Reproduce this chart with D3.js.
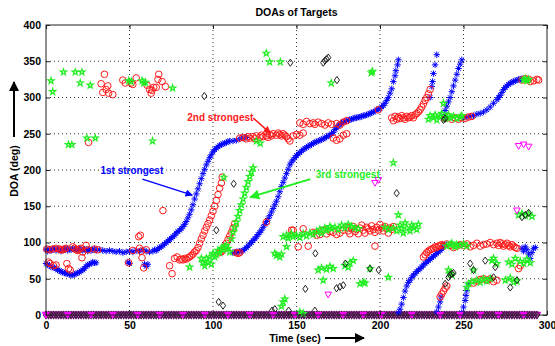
<!DOCTYPE html>
<html>
<head>
<meta charset="utf-8">
<script src="https://cdn.jsdelivr.net/npm/d3@7"></script>
<style>
  body { margin: 0; background: #fff; }
  text { font-family: "Liberation Sans", Arial, sans-serif; font-weight: bold; }
</style>
</head>
<body>
<div id="chart"></div>
<script>
// DOA tracks, [time (sec), DOA (deg)]
const firstMain = [[0,90],[1,88],[2,91],[3,89],[4,90],[5,92],[6,89],[7,91],[8,90],[9,88],[10,91],[11,90],[12,92],[13,89],[14,91],[15,90],[16,92],[17,90],[18,91],[19,89],[20,92],[21,90],[22,89],[23,91],[24,90],[25,88],[26,91],[27,89],[28,90],[29,91],[30,89],[32,90],[34,89],[36,88],[38,89],[40,88],[42,87],[44,88],[46,86],[48,87],[50,88],[52,87],[54,89],[56,88],[58,90],[60,88],[62,87],[64,88],[65,90],[66,89],[67,91],[68,93],[69,94],[70,96],[71,98],[72,100],[73,102],[74,104],[75,106],[76,108],[77,110],[78,113],[79,115],[80,117],[81,119],[82,122],[83,125],[84,129],[85,134],[86,139],[87,145],[88,152],[89,160],[90,167],[91,174],[92,181],[93,188],[94,195],[95,201],[96,207],[97,212],[98,217],[99,221],[100,225],[101,228],[102,230],[103,232],[104,234],[105,235],[106,236],[107,237],[108,238],[109,239],[110,240],[112,240],[114,241],[116,243],[118,244],[120,245]];
const firstDip = [[0,71],[1,70],[2,68],[3,67],[4,66],[5,65],[6,64],[7,62],[8,61],[9,60],[10,59],[11,58],[12,57],[13,57],[14,56],[15,55],[16,55],[17,56],[18,57],[19,58],[20,59],[21,61],[22,62],[23,64],[24,67],[25,69],[26,70],[27,71],[28,73],[29,72],[30,72],[49,73],[50,71],[59,70],[60,67],[61,70]];
const firstSecond = [[112,86],[113,86],[114,87],[115,87],[116,88],[117,88],[118,89],[119,91],[120,93],[121,95],[122,98],[123,100],[124,103],[125,105],[126,108],[127,111],[128,114],[129,117],[130,121],[131,125],[132,129],[133,133],[134,137],[135,142],[136,147],[137,152],[138,157],[139,163],[140,170],[141,177],[142,183],[143,189],[144,195],[145,201],[146,207],[147,211],[148,214],[149,217],[150,220],[151,222],[152,224],[153,226],[154,228],[155,230],[156,231],[157,233],[158,234],[159,235],[160,237],[161,238],[162,239],[163,240],[164,241],[165,242],[166,243],[167,244],[168,246],[169,247],[170,248],[171,250],[172,252],[173,256],[174,258],[175,261],[176,263],[177,264],[178,266],[179,267],[180,268],[181,268],[182,270],[183,270],[184,271],[185,272],[186,272],[187,273],[188,273],[189,274],[190,275],[191,275],[192,276],[193,277],[194,278],[195,279],[196,280],[197,281],[198,283],[199,284],[200,285],[201,287],[202,289],[203,292],[204,296],[205,300],[206,306],[207,312],[208,322],[209,330],[209.5,337],[210.5,345],[211,352]];
const firstLate = [[230,300],[231,315],[231.5,322],[232,333],[233,345],[234,359],[238,275],[239,282],[240,288],[241,294],[242,300],[243,308],[244,316],[245,324],[246,332],[247,340],[248,346],[249,352],[250,272],[252,273],[254,274],[256,275],[258,277],[260,278],[262,280],[264,283],[266,287],[268,292],[270,297],[271,300],[272,303],[273,307],[274,311],[275,314],[276,316],[277,318],[278,320],[279,321],[280,322],[281,323],[282,324],[283,325],[284,325],[285,326]];
const firstLow = [[211,3],[212,8],[213,15],[214,24],[215,33],[216,40],[217,45],[218,48],[219,52],[220,55],[221,57],[222,60],[223,62],[224,64],[225,66],[226,69],[227,71],[228,73],[229,75],[230,77],[231,79],[232,81],[233,83],[234,85],[235,87],[236,89],[237,91],[238,94],[239,96],[240,97],[234,4],[235,11],[236,18],[236.5,25],[249,3],[250,11],[251,20],[251.5,27],[252,34],[253,43],[285,92],[286,88],[287,94],[288,90],[289,84],[290,78],[291,86],[292,92],[293,93]];

const secondLeft = [[33,319],[34,307],[35,332],[36,311],[37,316],[37.5,306],[40,304],[46,324],[47.5,320],[51,320],[52,318],[54,327],[60.5,317],[62,311],[63,306],[63.5,310],[64.5,314],[66,314],[67,325],[67.5,332],[69.5,322],[71.5,315],[25.5,238],[70,144],[0.5,91],[2,90],[4,91],[6,92],[8,91],[9,90],[10,90],[11,91],[12,92],[16,94],[17,92],[18,90],[19,89],[20,91],[21,92],[22,87],[24,96],[25,90],[29,91],[31,90],[52,89],[56,92],[57,88],[60,90],[1.5,73],[2.5,71],[4.5,68],[6,69],[12.5,71],[13.5,64],[14.5,62],[21.5,79],[49.5,72],[55.5,108],[56.5,110],[57.5,79],[58.5,65]];
const secondRise = [[74,68],[75.5,57],[77,78],[78.5,80],[80,76],[81,77],[82,76],[83,78],[84,77],[85,79],[86,80],[87,82],[88,84],[89,87],[90,89],[91,93],[92,99],[93,105],[94,110],[95,116],[96,121],[97,126],[98,131],[99,137],[100,143],[101,150],[102,158],[103,166],[104,175],[105,182],[105.5,190],[104,86],[105,87],[106,90],[107,94],[108,99],[109,104],[110,109],[111,114],[112,120],[113,126],[114,86],[115,85],[116,86],[132,128],[148,117],[151,94],[154,119],[157,95]];
const secondUpper = [[116,244],[118,245],[120,243],[121,246],[122,244],[124,246],[125,243],[126,247],[128,245],[129,248],[130,246],[132,247],[133,245],[134,249],[135,247],[136,250],[138,248],[139,251],[140,249],[141,247],[142,250],[143,248],[144,246],[145,243],[146,240],[148,247],[150,249],[152,248],[154,251],[152,265],[154,263],[156,267],[158,264],[160,265],[161,263],[163,266],[165,264],[167,262],[169,265],[171,263],[174,264],[176,262],[178,266],[180,268],[172,244],[174,241],[176,243],[178,248],[180,250],[199,283],[207,272],[208,268],[209,274],[210,270],[211,273],[212,271],[213,275],[214,272],[215,270],[216,274],[217,272],[218,273],[219,275],[220,272],[221,276],[222,278],[223,280],[224,283],[225,287],[226,291],[227,296],[228,300],[229,305],[230,311],[239,271],[241,273],[243,270],[245,272],[247,270],[249,272],[251,271],[253,273],[255,274],[285,324],[287,326],[289,325],[290,322],[292,323],[294,325],[295,324]];
const secondMid = [[147,117],[160,114],[162,110],[164,111],[166,117],[168,112],[170,115],[172,114],[174,111],[176,113],[178,117],[180,121],[181,116],[182,112],[183,119],[184,122],[185,115],[186,118],[187,112],[188,120],[189,124],[190,117],[191,113],[192,121],[193,119],[194,116],[195,123],[196,118],[197,95],[197,114],[198,121],[199,117],[200,125],[201,120],[202,116],[203,122],[204,119],[205,113],[206,120],[207,118],[208,122]];
const secondRight = [[226,80],[227,83],[228,86],[229,88],[230,90],[231,91],[232,92],[233,94],[234,93],[235,95],[236,96],[237,97],[238,95],[240,98],[242,96],[244,93],[246,95],[248,97],[250,96],[252,98],[254,94],[256,96],[258,99],[260,95],[262,97],[264,98],[266,100],[268,97],[270,99],[271,96],[272,100],[273,98],[274,95],[275,97],[276,99],[277,96],[278,94],[279,97],[280,95],[281,93],[282,92],[283,64],[284,68],[236,25],[237,29],[238,33],[239,37],[240,40],[256,44],[258,47],[260,49],[262,50],[264,48],[266,50],[268,46],[270,48]];

const thirdTop = [[3,323],[4,308],[10.5,335],[17.5,335],[21.5,335],[20.5,320],[26.5,317],[49.5,323],[51,322],[57.5,323],[58.5,320],[59.5,321],[75.8,313],[13.5,235],[15.5,235],[24.5,244],[29.5,244],[63.8,240],[131.9,361],[133.9,349],[140.3,349],[170.8,320],[194.8,334],[195.5,336],[208,210],[128.3,237],[126,240],[238,292],[229,270],[230,275],[232,272],[233,276],[234,269],[236,274],[237,278],[239,271],[240,273],[241,276],[242,272],[244,274],[246,271],[248,273],[249,275],[286,324],[287,326],[288,323],[289,325]];
const thirdRise = [[86,66],[93,78],[94,72],[95,68],[96,78],[97,73],[98,80],[99,70],[100,85],[101,80],[102,83],[103,89],[104,86],[105,92],[106,90],[106.5,190],[107,94],[108,96],[109,92],[110,87],[111,105],[112,114],[113,121],[114,128],[115,136],[116,144],[117,152],[118,160],[119,168],[120,176],[121,184],[122,191],[123,197],[124,203]];
const thirdMid = [[137,85],[138,82],[140,80],[141,84],[144,94],[142,108],[144,110],[145,106],[147,112],[148,108],[150,110],[152,107],[154,112],[156,109],[158,113],[160,111],[162,115],[164,118],[165,113],[167,120],[168,117],[170,122],[171,119],[173,121],[175,118],[177,124],[179,120],[181,125],[183,122],[185,120],[187,119],[203,121],[205,118],[208,120],[210,116],[211,138],[212,124],[213,119],[214,113],[215,127],[216,120],[218,116],[219,124],[220,121],[222,118],[223,125]];
const thirdLow = [[163,62],[165,65],[166,48],[168,63],[170,67],[172,64],[179,68],[181,66],[182,72],[184,75],[188,43],[190,45],[191,44],[194,64],[205,52],[142,18],[141,12],[143,22],[154,2],[152,4],[240,95],[242,97],[243,99],[245,94],[246,97],[248,96],[250,98],[252,95],[241,62],[242,57],[243,55],[252,38],[253,43],[255,46],[256,62],[258,48],[260,45],[262,50],[264,47],[266,50],[267,75],[268,78],[270,71],[275,48],[278,51],[280,45],[282,47],[277,73],[279,70],[281,78],[284,74],[286,71],[288,77],[290,72],[283,138],[285,140],[287,137],[289,139],[291,136]];

const fourth = [[94.8,302],[146.3,348],[166,348],[167,351],[168,353],[169,355],[174.2,324],[239,271],[238,269],[112.4,181],[102,117],[103.4,18],[106,13],[135.3,6],[210,168],[161.3,85],[155.3,36],[179.3,71],[174,37],[176,39],[178,41],[194,64],[199.2,62],[145.3,6],[161,6],[137,8],[254,71],[263,75],[269,66],[241,52],[242,55],[243,57],[244,58],[256,62],[268,52],[278,38],[282,48],[285,135],[287,138],[289,141],[239,43]];
const fifth = [[197,182],[199,186],[169,28],[283,233],[286,235],[289,232],[282,144]];

// times of the samples sitting on 0 deg (the band along the bottom)
const zeroTimes = [0,1.5,3,4.5,6,7.5,9,10.5,12,13.5,15,16.5,18,19.5,21,22.5,24,25.5,27,28.5,30,31.5,33,34.5,36,37.5,39,40.5,42,43.5,45,46.5,48,49.5,51,52.5,54,55.5,57,58.5,60,61.5,63,64.5,66,67.5,69,70.5,72,73.5,75,76.5,78,79.5,81,82.5,84,85.5,87,88.5,90,91.5,93,94.5,96,97.5,99,100.5,102,103.5,105,106.5,108,109.5,111,112.5,114,115.5,117,118.5,120,121.5,123,124.5,126,127.5,129,130.5,132,133.5,135,136.5,138,139.5,141,142.5,144,145.5,147,148.5,150,151.5,153,154.5,156,157.5,159,160.5,162,163.5,165,166.5,168,169.5,171,172.5,174,175.5,177,178.5,180,181.5,183,184.5,186,187.5,189,190.5,192,193.5,195,196.5,198,199.5,201,202.5,204,205.5,207,208.5,210,211.5,213,214.5,216,217.5,219,220.5,222,223.5,225,226.5,228,229.5,231,232.5,234,235.5,237,238.5,240,241.5,243,244.5,246,247.5,249,250.5,252,253.5,255,256.5,258,259.5,261,262.5,264,265.5,267,268.5,270,271.5,273,274.5,276,277.5,279,280.5,282,283.5,285,286.5,288,289.5,291,292.5,294];
const zeroMarkTimes = [0,13,27,40,55,68,82,95,109,122,136,149,163,178,190,201,219,236,248,260,271,286];

const xTicks = [0, 50, 100, 150, 200, 250, 300];
const yTicks = [0, 50, 100, 150, 200, 250, 300, 350, 400];

const width = 555;
const height = 346;
const margin = { top: 25, right: 8, bottom: 31, left: 46 };

const x = d3.scaleLinear().domain([0, 300]).range([margin.left, width - margin.right]);
const y = d3.scaleLinear().domain([0, 400]).range([height - margin.bottom, margin.top]);

const svg = d3.select('#chart')
  .append('svg')
  .attr('width', width)
  .attr('height', height);

svg.append('rect').attr('width', width).attr('height', height).attr('fill', '#fff');

// dotted grid
svg.append('g')
  .selectAll('line')
  .data(xTicks.slice(1, -1))
  .enter().append('line')
  .attr('x1', d => x(d)).attr('x2', d => x(d))
  .attr('y1', y(0)).attr('y2', y(400))
  .attr('stroke', '#333').attr('stroke-dasharray', '1,3');

svg.append('g')
  .selectAll('line')
  .data(yTicks.slice(1, -1))
  .enter().append('line')
  .attr('x1', x(0)).attr('x2', x(300))
  .attr('y1', d => y(d)).attr('y2', d => y(d))
  .attr('stroke', '#333').attr('stroke-dasharray', '1,3');

// marker shapes (MATLAB style)
const asterisk = 'M-3.2,0H3.2M0,-3.2V3.2M-2.3,-2.3L2.3,2.3M-2.3,2.3L2.3,-2.3';
const diamond = 'M0,-3.6L2.6,0L0,3.6L-2.6,0Z';
const triDown = 'M-3.3,-2.6L3.3,-2.6L0,3.2Z';
const star = d3.symbol().type(d3.symbolStar).size(12)();

const plot = svg.append('g');

function drawPath(data, shape, color, fill, sw) {
  plot.append('g')
    .selectAll('path')
    .data(data)
    .enter().append('path')
    .attr('transform', d => `translate(${x(d[0])},${y(d[1])})`)
    .attr('d', shape)
    .attr('fill', fill || 'none')
    .attr('stroke', color)
    .attr('stroke-width', sw || 1);
}

function drawCircles(data, color) {
  plot.append('g')
    .selectAll('circle')
    .data(data)
    .enter().append('circle')
    .attr('cx', d => x(d[0]))
    .attr('cy', d => y(d[1]))
    .attr('r', 3.3)
    .attr('fill', 'none')
    .attr('stroke', color)
    .attr('stroke-width', 1);
}

const blue = '#0000ff', red = '#ff1a1a', green = '#22ee22', black = '#222', magenta = '#ff00ff';

// bottom band first
drawPath(zeroTimes.map(t => [t, 0]), triDown, '#e000e0', null, 1.3);
drawPath(zeroTimes.map(t => [t, 0]), diamond, '#442244', null, 1.1);

[firstMain, firstDip, firstSecond, firstLate, firstLow].forEach(s => drawPath(s, asterisk, blue));
[secondLeft, secondRise, secondUpper, secondMid, secondRight].forEach(s => drawCircles(s, red));
[thirdTop, thirdRise, thirdMid, thirdLow].forEach(s => drawPath(s, star, green, null, 1.2));
drawPath(fourth, diamond, black);
drawPath(fifth, triDown, magenta);
drawPath(zeroMarkTimes.map(t => [t, 0]), triDown, magenta, magenta);

// axes box with inward ticks
svg.append('rect')
  .attr('x', x(0)).attr('y', y(400))
  .attr('width', x(300) - x(0)).attr('height', y(0) - y(400))
  .attr('fill', 'none').attr('stroke', '#222');

const xAxis = svg.append('g')
  .attr('transform', `translate(0,${y(0)})`)
  .call(d3.axisBottom(x).tickValues(xTicks).tickSizeInner(-4).tickSizeOuter(0).tickPadding(7));
const yAxis = svg.append('g')
  .attr('transform', `translate(${x(0)},0)`)
  .call(d3.axisLeft(y).tickValues(yTicks).tickSizeInner(-4).tickSizeOuter(0).tickPadding(5));
svg.append('g')
  .attr('transform', `translate(0,${y(400)})`)
  .call(d3.axisTop(x).tickValues(xTicks).tickSizeInner(-4).tickSizeOuter(0).tickFormat(''));
svg.append('g')
  .attr('transform', `translate(${x(300)},0)`)
  .call(d3.axisRight(y).tickValues(yTicks).tickSizeInner(-4).tickSizeOuter(0).tickFormat(''));

svg.selectAll('.domain').remove();
svg.selectAll('.tick line').attr('stroke', '#222');
[xAxis, yAxis].forEach(a => a.selectAll('text')
  .attr('fill', '#000')
  .style('font-size', '10.5px')
  .style('font-family', '"Liberation Sans", Arial, sans-serif')
  .style('font-weight', 'bold'));

// titles
svg.append('text')
  .attr('x', x(150)).attr('y', 16)
  .attr('text-anchor', 'middle')
  .style('font-size', '10.5px')
  .text('DOAs of Targets');

svg.append('text')
  .attr('x', 295).attr('y', 342)
  .attr('text-anchor', 'middle')
  .style('font-size', '10.5px')
  .text('Time (sec)');

svg.append('text')
  .attr('transform', 'translate(18,171) rotate(-90)')
  .attr('text-anchor', 'middle')
  .style('font-size', '10.5px')
  .text('DOA (deg)');

// arrowheads
const defs = svg.append('defs');
function marker(id, color) {
  defs.append('marker')
    .attr('id', id)
    .attr('viewBox', '0 0 10 10')
    .attr('refX', 9).attr('refY', 5)
    .attr('markerWidth', 5).attr('markerHeight', 5)
    .attr('orient', 'auto')
    .append('path')
    .attr('d', 'M0,0L10,5L0,10Z')
    .attr('fill', color);
}
marker('arrBlack', '#000');
marker('arrBlue', blue);
marker('arrRed', red);
marker('arrGreen', green);

svg.append('line')
  .attr('x1', 325).attr('y1', 338).attr('x2', 364).attr('y2', 338)
  .attr('stroke', '#000').attr('stroke-width', 2)
  .attr('marker-end', 'url(#arrBlack)');
svg.append('line')
  .attr('x1', 14).attr('y1', 137).attr('x2', 14).attr('y2', 82)
  .attr('stroke', '#000').attr('stroke-width', 2)
  .attr('marker-end', 'url(#arrBlack)');

// "strongest" callouts, placed in data units
const callouts = [
  { text: '1st strongest', color: blue, at: [51.4, 195], from: [57.7, 187.4], to: [87.6, 165.3], arrow: 'arrBlue', w: 1.5 },
  { text: '2nd strongest', color: red, at: [104.4, 267.5], from: [124.1, 271.5], to: [134.3, 250.9], arrow: 'arrRed', w: 1.5 },
  { text: '3rd strongest', color: green, at: [180.7, 189], from: [158.3, 187.4], to: [122.3, 162.5], arrow: 'arrGreen', w: 2 }
];

callouts.forEach(c => {
  svg.append('text')
    .attr('x', x(c.at[0])).attr('y', y(c.at[1]))
    .attr('text-anchor', 'middle')
    .attr('fill', c.color)
    .style('font-size', '10px')
    .text(c.text);
  svg.append('line')
    .attr('x1', x(c.from[0])).attr('y1', y(c.from[1]))
    .attr('x2', x(c.to[0])).attr('y2', y(c.to[1]))
    .attr('stroke', c.color).attr('stroke-width', c.w)
    .attr('marker-end', `url(#${c.arrow})`);
});
</script>
</body>
</html>
